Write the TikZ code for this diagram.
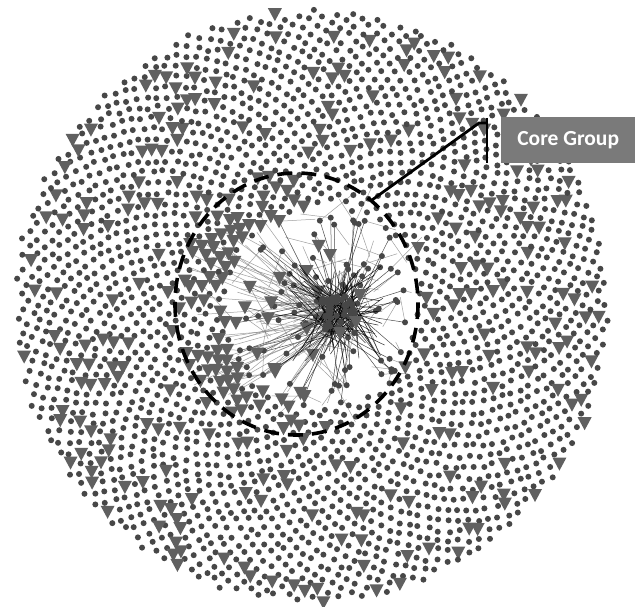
\documentclass[tikz,border=0pt]{standalone}
\usepackage{fontspec}
\setmainfont{Carlito}
\pgfdeclarelayer{bg}
\pgfdeclarelayer{paper}
\pgfsetlayers{paper,bg,main}
\begin{document}
\begin{tikzpicture}[x=1pt,y=-1pt]
\definecolor{dotc}{HTML}{474747}
\definecolor{tric}{HTML}{606060}
\definecolor{boxc}{HTML}{7A7A7A}
\tikzset{
  dotmark/.style={fill=dotc},
  trimark/.style={fill=tric},
  netline/.style={draw=black, line width=0.5pt, opacity=0.7},
  netlineg/.style={draw=gray, line width=0.5pt, opacity=0.75},
  coreline/.style={draw=black, line width=3.6pt, dash pattern=on 15pt off 9pt},
  callout/.style={draw=black, line width=2.8pt},
  labelbox/.style={fill=boxc, text=white, font=\bfseries\fontsize{21.5}{24}\selectfont, minimum width=134pt, minimum height=46pt, inner sep=0pt}
}
\useasboundingbox (0,0) rectangle (635,607);
\begin{pgfonlayer}{paper}
\fill[white] (0,0) rectangle (635,607);
\end{pgfonlayer}
\pgfmathsetseed{11}
% outer phyllotaxis field
\foreach \k in {1,...,2650}{
  \pgfmathsetmacro\r{5.75*sqrt(\k)+1.2*rand}
  \edef\a{\fpeval{360*(\k*0.3819660112501051 - trunc(\k*0.3819660112501051))}}
  \pgfmathsetmacro\px{312+\r*cos(\a)+1.4*rand}
  \pgfmathsetmacro\py{306+\r*sin(\a)+1.4*rand}
  \pgfmathtruncatemacro\inx{((\px-322)/95)^2+((\py-306)/100)^2<1}
  \pgfmathtruncatemacro\ind{(((\px-296.5)/121.5)^2+((\py-304)/131)^2<1)*(\px<305)}
  \ifnum\inx=0
    \ifnum\ind=1
      \pgfmathtruncatemacro\tri{rnd<0.45}
    \else
      \pgfmathtruncatemacro\tri{rnd<0.11}
    \fi
    \ifnum\tri=1
      \fill[trimark] (\px-7,\py-6) -- (\px+7,\py-6) -- (\px,\py+7) -- cycle;
    \else
      \fill[dotmark] (\px,\py) circle (3);
    \fi
  \fi
}
% network inside core
\coordinate (hub) at (338,314);
\foreach \i in {1,...,95}{
  \pgfmathsetmacro\u{sqrt(rnd)}
  \pgfmathsetmacro\t{360*rnd}
  \pgfmathsetmacro\nx{322+94*\u*cos(\t)}
  \pgfmathsetmacro\ny{306+99*\u*sin(\t)}
  \pgfmathsetmacro\hx{338+16*rand}
  \pgfmathsetmacro\hy{314+16*rand}
  \pgfmathsetmacro\mx{\nx+40*rand}
  \pgfmathsetmacro\my{\ny+40*rand}
  \begin{pgfonlayer}{bg}
    \path[netline] (\hx,\hy) -- (\nx,\ny);
    \path[netlineg] (\nx,\ny) -- (\mx,\my);
  \end{pgfonlayer}
  \pgfmathtruncatemacro\tri{(rnd<0.35)*(\nx<330)}
  \ifnum\tri=1
    \fill[trimark] (\nx-7,\ny-6) -- (\nx+7,\ny-6) -- (\nx,\ny+7) -- cycle;
  \else
    \fill[dotmark] (\nx,\ny) circle (3);
  \fi
}
% links toward the left part of the core
\foreach \i in {1,...,45}{
  \pgfmathsetmacro\nx{190+110*rnd}
  \pgfmathsetmacro\ny{210+190*rnd}
  \pgfmathsetmacro\hx{338+16*rand}
  \pgfmathsetmacro\hy{314+16*rand}
  \begin{pgfonlayer}{bg}
    \path[netlineg] (\hx,\hy) -- (\nx,\ny);
  \end{pgfonlayer}
}
% dense hub
\foreach \i in {1,...,90}{
  \pgfmathsetmacro\ax{338+20*rand}
  \pgfmathsetmacro\ay{314+20*rand}
  \pgfmathsetmacro\bx{338+50*rand}
  \pgfmathsetmacro\by{314+50*rand}
  \path[draw=black, line width=0.55pt, opacity=0.8] (\ax,\ay) -- (\bx,\by);
}
\foreach \i in {1,...,45}{
  \pgfmathsetmacro\ax{338+19*rand}
  \pgfmathsetmacro\ay{314+19*rand}
  \fill[dotmark] (\ax,\ay) circle (3.2);
}
\fill[trimark] (356-7,322-6) -- (356+7,322-6) -- (356,322+7) -- cycle;
\fill[trimark] (340-7,333-6) -- (340+7,333-6) -- (340,333+7) -- cycle;
\fill[trimark] (360-7,295-6) -- (360+7,295-6) -- (360,295+7) -- cycle;
\fill[trimark] (330-7,255-6) -- (330+7,255-6) -- (330,255+7) -- cycle;
% dashed core boundary
\draw[coreline] (296.5,304) ellipse (121.5 and 131);
% callout
\node[labelbox, anchor=north west] (lbl) at (501,117) {Core Group};
\coordinate (cp) at (372,200);
\coordinate (bend) at (479,123);
\coordinate (bartop) at (487,118);
\coordinate (barbot) at (487,163);
\draw[callout] (cp) -- (bend) -- (bend -| bartop);
\draw[callout] (bartop) -- (barbot);
\end{tikzpicture}
\end{document}
